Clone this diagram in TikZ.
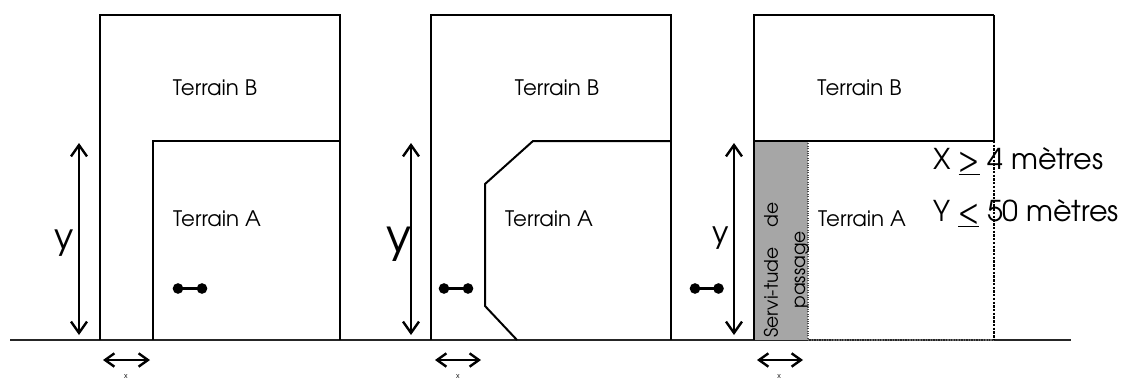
\documentclass[tikz,border=0pt]{standalone}
\usepackage{fontspec}
\setmainfont{TeX Gyre Adventor}
\usetikzlibrary{arrows.meta}
\definecolor{servgray}{RGB}{166,166,166}
\tikzset{
  lot/.style={line width=1.5pt, black},
  ground/.style={line width=1.2pt, black!85},
  dim/.style={line width=1.8pt, {Straight Barb[length=8.5pt,width=12pt]}-{Straight Barb[length=8.5pt,width=12pt]}},
  dimx/.style={line width=1.8pt, {Straight Barb[length=7pt,width=10pt]}-{Straight Barb[length=7pt,width=10pt]}},
  lbl/.style={font=\fontsize{16}{18}\selectfont, inner sep=0pt},
  big/.style={font=\fontsize{21.5}{24}\selectfont, inner sep=0pt, anchor=base west},
  tiny/.style={font=\fontsize{5.5}{6}\selectfont, inner sep=0pt},
  dot/.style={circle, fill=black, inner sep=0pt, minimum size=8pt},
  bar/.style={line width=2pt},
}
\begin{document}
\begin{tikzpicture}[x=0.75pt,y=-0.75pt]
\useasboundingbox (0,0) rectangle (1124,379);
% ground
\coordinate (g1) at (10,340);
\coordinate (g2) at (1071,340);
\draw[ground] (g1) -- (g2);
% ---------- panel 1
\draw[lot] (100,340) -- (100,15) -- (340,15) -- (340,340);
\draw[lot] (153,340) -- (153,141) -- (340,141);
\node[lbl] (b1) at (215,88) {Terrain B};
\node[lbl] (a1) at (217,219) {Terrain A};
\coordinate (v1t) at (79,143); \coordinate (v1b) at (79,335);
\draw[dim] (v1t) -- (v1b);
\node[inner sep=0pt, font=\fontsize{27}{30}\selectfont] (y1) at (64,243) {y};
\node[dot] (d1a) at (178,288.5) {};
\node[dot] (d1b) at (202,288.5) {};
\draw[bar] (d1a.center) -- (d1b.center);
\coordinate (h1a) at (103,360); \coordinate (h1b) at (150,360);
\draw[dimx] (h1a) -- (h1b);
\node[tiny] (x1) at (126,376) {x};
% ---------- panel 2
\draw[lot] (431,340) -- (431,15) -- (671,15) -- (671,340);
\draw[lot] (671,141) -- (533,141) -- (485,184) -- (485,306) -- (517,340);
\node[lbl] (b2) at (557,88) {Terrain B};
\node[lbl] (a2) at (549,219) {Terrain A};
\coordinate (v2t) at (411,143); \coordinate (v2b) at (411,335);
\draw[dim] (v2t) -- (v2b);
\node[inner sep=0pt, font=\fontsize{35}{38}\selectfont] (y2) at (399,244) {y};
\node[dot] (d2a) at (444,288.5) {};
\node[dot] (d2b) at (468,288.5) {};
\draw[bar] (d2a.center) -- (d2b.center);
\coordinate (h2a) at (435,360); \coordinate (h2b) at (481,360);
\draw[dimx] (h2a) -- (h2b);
\node[tiny] (x2) at (458,376) {x};
% ---------- panel 3
\fill[servgray] (754,141) rectangle (808,340);
\draw[line width=0.8pt, densely dotted, black!70] (808,141) -- (808,340);
\draw[line width=0.9pt, densely dotted, black!60] (808,340) -- (994,340);
\draw[line width=2.2pt] (754,340) -- (754,15) -- (994,15);
\draw[lot] (994,15) -- (994,141);
\draw[lot] (754,141) -- (994,141);
\node[lbl] (b3) at (859.5,88) {Terrain B};
\node[lbl] (a3) at (862,219) {Terrain A};
\node[lbl, rotate=90, align=center, font=\fontsize{14}{20.5}\selectfont] (s3) at (786.5,270) {Servi-tude\hspace{0.8em} de\\passage};
\coordinate (v3t) at (734,143); \coordinate (v3b) at (734,335);
\draw[dim] (v3t) -- (v3b);
\node[inner sep=0pt, font=\fontsize{23}{26}\selectfont] (y3) at (721,238) {y};
\node[dot] (d3a) at (695,288.5) {};
\node[dot] (d3b) at (718.5,288.5) {};
\draw[bar] (d3a.center) -- (d3b.center);
\coordinate (h3a) at (757,360); \coordinate (h3b) at (803,360);
\draw[dimx] (h3a) -- (h3b);
\node[tiny] (x3) at (779,376) {x};
% conditions
\node[big] (cx) at (933,169) {X \underline{>} 4 mètres};
\node[big] (cy) at (933,221) {Y \underline{<} 50 mètres};
\draw[line width=1.8pt, densely dotted] (994,141) -- (994,340);
\end{tikzpicture}
\end{document}
